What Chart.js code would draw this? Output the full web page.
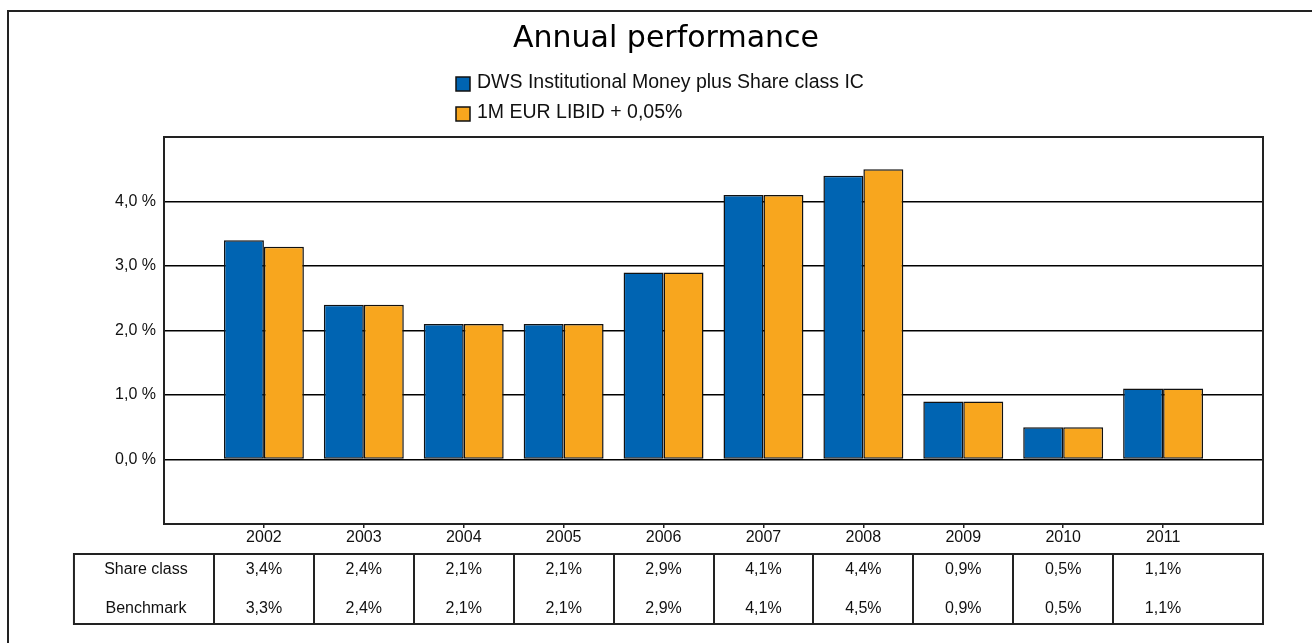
<!DOCTYPE html>
<html>
<head>
<meta charset="utf-8">
<script src="https://cdn.jsdelivr.net/npm/chart.js@4"></script>
<style>
  body { margin: 0; background: #fff; }
  #wrap { width: 1312px; height: 643px; position: relative; }
</style>
</head>
<body>
<div id="wrap"><canvas id="grafico"></canvas></div>
<script>
// dados
const years = [2002, 2003, 2004, 2005, 2006, 2007, 2008, 2009, 2010, 2011];
const shareClass = [3.4, 2.4, 2.1, 2.1, 2.9, 4.1, 4.4, 0.9, 0.5, 1.1];
const benchmark = [3.3, 2.4, 2.1, 2.1, 2.9, 4.1, 4.5, 0.9, 0.5, 1.1];
const yTicks = [0, 1, 2, 3, 4];
const seriesNames = ['DWS Institutional Money plus Share class IC', '1M EUR LIBID + 0,05%'];
const rowNames = ['Share class', 'Benchmark'];

const fmtPct = v => v.toFixed(1).replace('.', ',') + '%';
const font = 'Liberation Sans, Arial, sans-serif';

// moldura externa + borda do grafico
const frame = {
  id: 'frame',
  beforeDraw(chart) {
    const ctx = chart.ctx;
    ctx.save();
    ctx.strokeStyle = '#222';
    ctx.lineWidth = 2;
    ctx.strokeRect(8, 11, 2000, 2000);
    ctx.restore();
  },
  afterDraw(chart) {
    const ctx = chart.ctx, a = chart.chartArea;
    ctx.save();
    ctx.strokeStyle = '#222';
    ctx.lineWidth = 2;
    ctx.strokeRect(a.left, a.top, a.right - a.left, a.bottom - a.top);
    ctx.restore();
  }
};

// legenda vertical
const legendaVertical = {
  id: 'legendaVertical',
  afterDraw(chart) {
    const ctx = chart.ctx;
    ctx.save();
    ctx.font = '19.5px ' + font;
    ctx.textBaseline = 'middle';
    const x0 = 456, y0 = 83;
    chart.data.datasets.forEach((ds, i) => {
      const y = y0 + i * 30;
      ctx.fillStyle = ds.backgroundColor;
      ctx.fillRect(x0, y - 6, 14, 14);
      ctx.strokeStyle = '#111';
      ctx.lineWidth = 1.5;
      ctx.strokeRect(x0, y - 6, 14, 14);
      ctx.fillStyle = '#111';
      ctx.fillText(ds.label, x0 + 21, y);
    });
    ctx.restore();
  }
};

// tabela embaixo
const tabela = {
  id: 'tabela',
  afterDraw(chart) {
    const ctx = chart.ctx, x = chart.scales.x, a = chart.chartArea;
    const top = a.bottom + 30, h = 70;
    const first = x.getPixelForValue(years[0] - 0.5);
    const left = first - 140;
    ctx.save();
    ctx.strokeStyle = '#222';
    ctx.lineWidth = 2;
    ctx.strokeRect(left, top, a.right - left, h);
    years.forEach(yr => {
      const px = Math.round(x.getPixelForValue(yr - 0.5));
      ctx.beginPath();
      ctx.moveTo(px, top);
      ctx.lineTo(px, top + h);
      ctx.stroke();
    });
    ctx.font = '16px ' + font;
    ctx.fillStyle = '#111';
    ctx.textAlign = 'center';
    ctx.textBaseline = 'middle';
    const rows = [shareClass, benchmark];
    rows.forEach((vals, r) => {
      const y = top + 16 + r * 39;
      ctx.fillText(rowNames[r], (left + first) / 2 + 2, y);
      vals.forEach((v, i) => ctx.fillText(fmtPct(v), x.getPixelForValue(years[i]), y));
    });
    ctx.restore();
  }
};

new Chart(document.getElementById('grafico'), {
  type: 'bar',
  data: {
    datasets: [{
      label: seriesNames[0],
      data: years.map((yr, i) => ({ x: yr, y: shareClass[i] })),
      backgroundColor: '#0064B2',
      borderColor: '#111',
      borderWidth: 1.5,
      borderSkipped: false
    }, {
      label: seriesNames[1],
      data: years.map((yr, i) => ({ x: yr, y: benchmark[i] })),
      backgroundColor: '#F8A61E',
      borderColor: '#111',
      borderWidth: 1.5,
      borderSkipped: false
    }]
  },
  options: {
    responsive: true,
    maintainAspectRatio: false,
    animation: false,
    categoryPercentage: 0.8,
    barPercentage: 1.0,
    layout: { padding: { left: 69, right: 49, top: 0, bottom: 0 } },
    plugins: {
      legend: { display: false },
      tooltip: { enabled: false },
      title: {
        display: true,
        text: 'Annual performance',
        color: '#000',
        font: { family: 'DejaVu Sans', size: 30, weight: 'normal' },
        padding: { top: 21, bottom: 80 }
      }
    },
    scales: {
      x: {
        type: 'linear',
        offset: false,
        min: years[0] - 1,
        max: years[years.length - 1] + 1,
        afterBuildTicks: s => { s.ticks = years.map(v => ({ value: v })); },
        afterFit: s => { s.height = 119; },
        grid: { offset: false, drawOnChartArea: false, tickLength: 4, color: '#222', lineWidth: 1.5 },
        border: { color: '#222', width: 2 },
        ticks: { callback: v => String(v), color: '#111', font: { family: font, size: 16 }, padding: 0, maxRotation: 0 }
      },
      y: {
        min: -1,
        max: 5,
        afterBuildTicks: s => { s.ticks = [-1].concat(yTicks, [5]).map(v => ({ value: v })); },
        afterFit: s => { s.width = 95; },
        grid: {
          drawTicks: false,
          color: c => (yTicks.includes(c.tick.value) ? '#000' : 'rgba(0,0,0,0)'),
          lineWidth: 1.5
        },
        border: { color: '#222', width: 2 },
        ticks: {
          callback: v => (yTicks.includes(v) ? v.toFixed(1).replace('.', ',') + ' %' : ''),
          color: '#111',
          font: { family: font, size: 16 },
          padding: 8
        }
      }
    }
  },
  plugins: [frame, legendaVertical, tabela]
});
</script>
</body>
</html>
